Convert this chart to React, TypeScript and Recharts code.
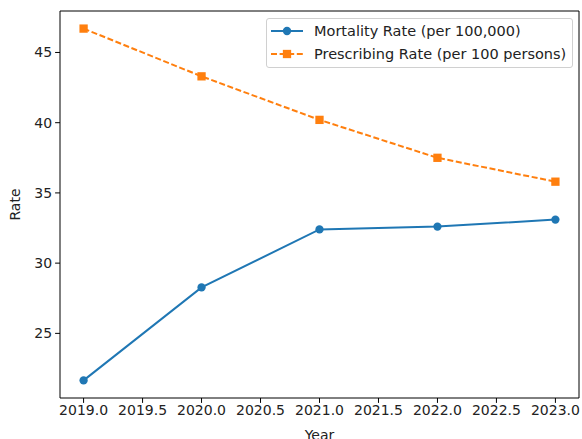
import * as React from "react";
import { Line, LineChart, ReferenceLine, XAxis, YAxis } from "recharts";

const years = [2019, 2020, 2021, 2022, 2023];
const mortality = [21.65, 28.27, 32.4, 32.6, 33.1];
const prescribing = [46.7, 43.3, 40.2, 37.5, 35.8];
const xTicks = [2019, 2019.5, 2020, 2020.5, 2021, 2021.5, 2022, 2022.5, 2023];
const yTicks = [25, 30, 35, 40, 45];
const seriesNames = ["Mortality Rate (per 100,000)", "Prescribing Rate (per 100 persons)"];

const BLUE = "#1f77b4";
const ORANGE = "#ff7f0e";
const FONT = "'DejaVu Sans', sans-serif";
const FS = 14;
const LW = 2;
const MS = 8.3;

const data = years.map((y, i) => ({ year: y, mortality: mortality[i], prescribing: prescribing[i] }));

// matplotlib-style 5% padding around the data
function pad(vals: number[]): [number, number] {
  const lo = Math.min(...vals);
  const hi = Math.max(...vals);
  const m = (hi - lo) * 0.05;
  return [lo - m, hi + m];
}
const xDomain = pad(years);
const yDomain = pad([...mortality, ...prescribing]);

const SquareDot = (props: any) => {
  const { cx, cy, index } = props;
  if (cx == null || cy == null) return <g key={index} />;
  return <rect key={index} x={cx - MS / 2} y={cy - MS / 2} width={MS} height={MS} fill={ORANGE} />;
};

function LegendBox() {
  return (
    <div
      style={{
        position: "absolute",
        left: 266,
        top: 18,
        width: 305,
        height: 48,
        border: "1px solid #d0d0d0",
        borderRadius: 3,
        background: "rgba(255,255,255,0.8)",
        fontFamily: FONT,
        fontSize: 14.5,
        color: "#222",
      }}
    >
      {seriesNames.map((name, i) => (
        <div
          key={name}
          style={{ position: "absolute", left: 4, top: 3 + i * 22.5, height: 18, display: "flex", alignItems: "center" }}
        >
          <svg width={32} height={18} style={{ display: "block" }}>
            {i === 0 ? (
              <>
                <line x1={0} y1={9} x2={32} y2={9} stroke={BLUE} strokeWidth={LW} />
                <circle cx={16} cy={9} r={MS / 2} fill={BLUE} />
              </>
            ) : (
              <>
                <line x1={0} y1={9} x2={32} y2={9} stroke={ORANGE} strokeWidth={LW} strokeDasharray="6 2.6" />
                <rect x={16 - MS / 2} y={9 - MS / 2} width={MS} height={MS} fill={ORANGE} />
              </>
            )}
          </svg>
          <span style={{ marginLeft: 11, whiteSpace: "nowrap" }}>{name}</span>
        </div>
      ))}
    </div>
  );
}

export default function App() {
  const tickStyle = { fill: "#222", fontSize: FS, fontFamily: FONT };
  return (
    <div style={{ position: "absolute", left: 0, top: 0, width: 582, height: 439, background: "#fff", overflow: "hidden" }}>
      <LineChart width={582} height={439} data={data} margin={{ top: 11, right: 3, bottom: 0, left: 0 }}>
        <XAxis
          dataKey="year"
          type="number"
          domain={xDomain}
          ticks={xTicks}
          tickFormatter={(v: number) => v.toFixed(1)}
          height={41}
          tick={tickStyle}
          tickSize={4.9}
          tickMargin={2}
          axisLine={{ stroke: "#000", strokeWidth: 1 }}
          tickLine={{ stroke: "#000", strokeWidth: 1 }}
          allowDataOverflow
          label={{ value: "Year", position: "insideBottom", offset: -1, style: { fill: "#222", fontSize: FS, fontFamily: FONT } }}
        />
        <YAxis
          type="number"
          domain={yDomain}
          ticks={yTicks}
          width={60}
          tick={tickStyle}
          tickSize={4.9}
          tickMargin={3}
          axisLine={{ stroke: "#000", strokeWidth: 1 }}
          tickLine={{ stroke: "#000", strokeWidth: 1 }}
          allowDataOverflow
          label={{
            value: "Rate",
            angle: -90,
            position: "insideLeft",
            offset: 15,
            style: { fill: "#222", fontSize: FS, fontFamily: FONT, textAnchor: "middle" },
          }}
        />
        {/* top and right spines */}
        <ReferenceLine y={yDomain[1]} stroke="#000" strokeWidth={1} />
        <ReferenceLine x={xDomain[1]} stroke="#000" strokeWidth={1} />
        <Line
          type="linear"
          dataKey="mortality"
          name={seriesNames[0]}
          stroke={BLUE}
          strokeWidth={LW}
          dot={{ r: MS / 2, fill: BLUE, stroke: BLUE, strokeWidth: 0 }}
          activeDot={false}
          isAnimationActive={false}
        />
        <Line
          type="linear"
          dataKey="prescribing"
          name={seriesNames[1]}
          stroke={ORANGE}
          strokeWidth={LW}
          strokeDasharray="6 2.6"
          dot={SquareDot}
          activeDot={false}
          isAnimationActive={false}
        />
      </LineChart>
      <LegendBox />
    </div>
  );
}
